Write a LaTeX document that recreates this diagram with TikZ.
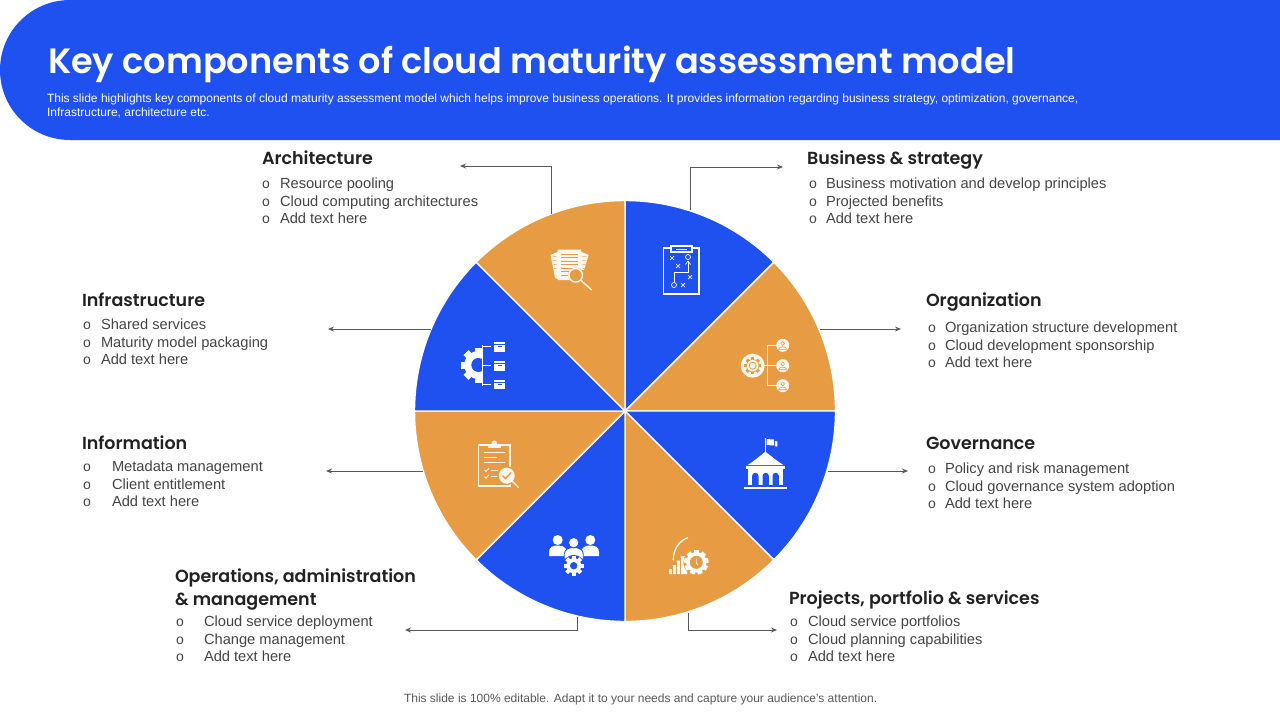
\documentclass[tikz,border=0pt]{standalone}
\usepackage{fontspec}
\usetikzlibrary{arrows.meta}
\setmainfont{Liberation Sans}
\newfontfamily\headfont{Poppins}[BoldFont={Poppins SemiBold}]
\definecolor{myblue}{HTML}{1F50F0}
\definecolor{myorange}{HTML}{E79C43}
\definecolor{headcol}{HTML}{222222}
\definecolor{bodycol}{HTML}{454545}
\definecolor{linecol}{HTML}{595959}
\tikzset{
  txt/.style={inner sep=0pt,outer sep=0pt,anchor=base west},
  headtxt/.style={txt,text=headcol,font=\headfont\bfseries\fontsize{17.5}{22}\selectfont},
  bodytxt/.style={txt,text=bodycol,font=\fontsize{14.67}{17}\selectfont},
  bultxt/.style={inner sep=0pt,outer sep=0pt,anchor=base,text=bodycol,font=\fontsize{14}{15}\selectfont},
  conn/.style={draw=linecol,line width=0.9pt,-{Stealth[length=6pt,width=5pt]}},
  wedgeb/.style={fill=myblue,draw=white,line width=1.4pt,line join=round},
  wedgeo/.style={fill=myorange,draw=white,line width=1.4pt,line join=round},
  wl/.style={draw=white,line width=1.2pt,fill=none},
}
\newcommand{\bl}[5]{%
  \node[bultxt] (#1b) at (#2,#4) {o};
  \node[bodytxt] (#1) at (#3,#4) {#5};}
% gear: x y Router Rinner teeth colour
\newcommand{\gearshape}[6]{%
  \fill[#6] (#1,#2) circle[radius=#4];
  \foreach \ga in {1,...,#5}{%
    \fill[#6,rotate around={\ga*360/#5:(#1,#2)}] ({#1-0.2*#3},#2) rectangle ({#1+0.2*#3},{#2-#3});}}
\begin{document}
\begin{tikzpicture}[x=1pt,y=-1pt]
\useasboundingbox (0,0) rectangle (1280,720);
\fill[white] (0,0) rectangle (1280,720);
% banner
\fill[myblue] (1280,0) -- (70,0) arc[start angle=90,end angle=270,radius=70pt] -- (1280,140) -- cycle;
\node[txt,text=white,font=\headfont\bfseries\fontsize{35.15}{44}\selectfont] (title) at (48,73.5) {Key components of cloud maturity assessment model};
\node[txt,text=white,font=\fontsize{12}{14}\selectfont] (sub1) at (47,102) {This slide highlights key components of cloud maturity assessment model which helps improve business operations. It provides information regarding business strategy, optimization, governance,};
\node[txt,text=white,font=\fontsize{12}{14}\selectfont] (sub2) at (47,116) {Infrastructure, architecture etc.};
% pie
\begin{scope}[shift={(625,411)}]
  \path[wedgeb] (0pt,0pt) -- (90:210.5pt) arc[start angle=90,end angle=45,radius=210.5pt] -- cycle;
  \path[wedgeo] (0pt,0pt) -- (45:210.5pt) arc[start angle=45,end angle=0,radius=210.5pt] -- cycle;
  \path[wedgeb] (0pt,0pt) -- (0:210.5pt) arc[start angle=0,end angle=-45,radius=210.5pt] -- cycle;
  \path[wedgeo] (0pt,0pt) -- (-45:210.5pt) arc[start angle=-45,end angle=-90,radius=210.5pt] -- cycle;
  \path[wedgeb] (0pt,0pt) -- (-90:210.5pt) arc[start angle=-90,end angle=-135,radius=210.5pt] -- cycle;
  \path[wedgeo] (0pt,0pt) -- (-135:210.5pt) arc[start angle=-135,end angle=-180,radius=210.5pt] -- cycle;
  \path[wedgeb] (0pt,0pt) -- (180:210.5pt) arc[start angle=180,end angle=135,radius=210.5pt] -- cycle;
  \path[wedgeo] (0pt,0pt) -- (135:210.5pt) arc[start angle=135,end angle=90,radius=210.5pt] -- cycle;
\end{scope}
% connector ends
\coordinate (pArch) at (551,214);
\coordinate (eArch) at (460,166);
\coordinate (pBus) at (690,210);
\coordinate (eBus) at (783,167);
\coordinate (pOrg) at (820,329);
\coordinate (eOrg) at (901,329);
\coordinate (pGov) at (828,471);
\coordinate (eGov) at (908,471);
\coordinate (pProj) at (688,613);
\coordinate (eProj) at (777,630);
\coordinate (pOps) at (577,617);
\coordinate (eOps) at (405,630);
\coordinate (pInfo) at (423,471);
\coordinate (eInfo) at (326,471);
\coordinate (pInfra) at (431,329);
\coordinate (eInfra) at (328,329);
\draw[conn] (pArch) |- (eArch);
\draw[conn] (pBus) |- (eBus);
\draw[conn] (pOrg) -- (eOrg);
\draw[conn] (pGov) -- (eGov);
\draw[conn] (pProj) |- (eProj);
\draw[conn] (pOps) |- (eOps);
\draw[conn] (pInfo) -- (eInfo);
\draw[conn] (pInfra) -- (eInfra);
% texts
\node[headtxt] (hArch) at (262,164.5) {Architecture};
\bl{a1}{266}{280}{188}{Resource pooling}
\bl{a2}{266}{280}{206}{Cloud computing architectures}
\bl{a3}{266}{280}{223}{Add text here}
\node[headtxt] (hBus) at (807,164.5) {Business \& strategy};
\bl{b1}{813}{826}{188}{Business motivation and develop principles}
\bl{b2}{813}{826}{206}{Projected benefits}
\bl{b3}{813}{826}{223}{Add text here}
\node[headtxt] (hInfra) at (82,306.5) {Infrastructure};
\bl{c1}{87}{101}{329}{Shared services}
\bl{c2}{87}{101}{347}{Maturity model packaging}
\bl{c3}{87}{101}{364}{Add text here}
\node[headtxt] (hOrg) at (926,306.5) {Organization};
\bl{d1}{932}{945}{332}{Organization structure development}
\bl{d2}{932}{945}{350}{Cloud development sponsorship}
\bl{d3}{932}{945}{367}{Add text here}
\node[headtxt] (hInfo) at (82,449.5) {Information};
\bl{e1}{87}{112}{471}{Metadata management}
\bl{e2}{87}{112}{489}{Client entitlement}
\bl{e3}{87}{112}{506}{Add text here}
\node[headtxt] (hGov) at (926,449.5) {Governance};
\bl{f1}{932}{945}{473}{Policy and risk management}
\bl{f2}{932}{945}{491}{Cloud governance system adoption}
\bl{f3}{932}{945}{508}{Add text here}
\node[headtxt] (hOps1) at (175,582.5) {Operations, administration};
\node[headtxt] (hOps2) at (175,605.5) {\& management};
\bl{g1}{180}{204}{626}{Cloud service deployment}
\bl{g2}{180}{204}{644}{Change management}
\bl{g3}{180}{204}{661}{Add text here}
\node[headtxt] (hProj) at (789,604.5) {Projects, portfolio \& services};
\bl{h1}{794}{808}{626}{Cloud service portfolios}
\bl{h2}{794}{808}{644}{Cloud planning capabilities}
\bl{h3}{794}{808}{661}{Add text here}
\node[txt,text=linecol,font=\fontsize{12}{14}\selectfont] (foot) at (404,702) {This slide is 100\% editable. Adapt it to your needs and capture your audience's attention.};
% --- icon: clipboard (business)
\draw[white,line width=1.6pt] (663.5,248) rectangle (699,294);
\draw[wl,fill=myblue] (671,248) -- (671,246) -- (692,246) -- (692,248) -- (692,252) -- (671,252) -- cycle;
\draw[white,line width=0.8pt] (676,249) -- (687,249);
\begin{scope}[white,line width=0.7pt]
  \foreach \mx/\my in {672/258,678/266,690/277,683/285}{
    \draw (\mx-2,\my-2) -- (\mx+2,\my+2) (\mx-2,\my+2) -- (\mx+2,\my-2);}
  \draw (688,257) circle[radius=2.5];
  \draw (674,285) circle[radius=2.5];
  \draw (674,282) -- (674,272) -- (688,272) -- (688,262);
  \draw (685.5,264.5) -- (688,261) -- (690.5,264.5);
\end{scope}
% --- icon: org gear + persons
\fill[white!92!myorange] (752.7,365.7) circle[radius=12];
\gearshape{752.7}{365.7}{8.5}{6.5}{8}{myorange}
\fill[white!92!myorange] (752.7,365.7) circle[radius=5.8];
\draw[myorange,line width=0.8pt] (752.7,365.7) circle[radius=3.5];
\draw[white!92!myorange,line width=0.9pt] (764,365.7) -- (777,365.7) (777,345.7) -- (767,345.7) -- (767,385.7) -- (777,385.7);
\foreach \py in {345.3,365.7,385.7}{
  \fill[white!92!myorange] (782.7,\py) circle[radius=6.5];
  \draw[myorange,line width=0.6pt] (782.7,\py-1.8) circle[radius=1.9];
  \draw[myorange,line width=0.6pt] (778.7,\py+4) .. controls (778.7,\py+0.5) and (786.7,\py+0.5) .. (786.7,\py+4) -- cycle;
}
% --- icon: documents + magnifier
\fill[white!92!myorange] (550.5,255) -- (558,251.7) -- (558,279) -- (555,278) -- cycle;
\fill[white!92!myorange] (581,251.7) -- (588.7,255) -- (584,270) -- (581,270) -- cycle;
\fill[white!92!myorange] (557.7,249.5) -- (581,249.5) -- (581,268) -- (570,280) -- (557.7,280) -- cycle;
\foreach \ly in {254,257.5,261,264.5,268,271.5,275}{
  \draw[myorange,line width=0.5pt] (561,\ly) -- (578,\ly);}
\foreach \ly in {258,262,266,270}{
  \draw[myorange,line width=0.4pt] (552.5,\ly-2) -- (557,\ly-1);
  \draw[myorange,line width=0.4pt] (582,\ly-1) -- (586.5,\ly-2);}
\fill[myorange] (575.7,275.3) circle[radius=7.5];
\draw[white!92!myorange,line width=1.4pt] (575.7,275.3) circle[radius=6.8];
\draw[white!92!myorange,line width=1.4pt,line cap=round] (581,280.5) -- (591.5,289.8);
% --- icon: infrastructure gear + boxes
\begin{scope}
  \clip (455,340) rectangle (482.7,392);
  \gearshape{478.3}{365}{17.5}{14}{8}{white}
  \fill[myblue] (478.3,365) circle[radius=7];
\end{scope}
\draw[white,line width=1.4pt] (482.7,345) -- (482.7,385.7);
\draw[white,line width=0.9pt] (482.7,346) -- (491,346) (482,365.3) -- (491,365.3) (482.7,384.3) -- (491,384.3);
\foreach \by in {342,361,379.7}{
  \fill[white] (494.3,\by) rectangle (505,\by+9.5);
  \draw[myblue,line width=0.5pt] (494.3,\by+2.6) -- (505,\by+2.6);
  \draw[myblue,line width=0.5pt] (498,\by+4.5) -- (501.5,\by+4.5);
}
% --- icon: bank
\draw[white,line width=0.9pt] (765.3,438.3) -- (765.3,452);
\fill[white] (766.5,439) -- (774,439.5) -- (774,445.5) -- (766.5,445) -- cycle;
\fill[white] (775,441) -- (777.3,441.5) -- (777.3,446.7) -- (775,446.2) -- cycle;
\fill[white] (765.3,451.7) .. controls (760,456) and (754,461) .. (747.7,465) -- (783.3,465) .. controls (777,461) and (771,456) .. (765.3,451.7) -- cycle;
\fill[white] (746,466) rectangle (785.3,468.5);
\fill[white] (747.7,469.3) rectangle (783.3,485.3);
\foreach \ax in {755.3,765.7,775.7}{
  \fill[myblue] (\ax-3.2,485) -- (\ax-3.2,476) arc[start angle=180,end angle=0,x radius=3.2pt,y radius=3.2pt] -- (\ax+3.2,485) -- cycle;}
\fill[white] (744,486.7) rectangle (787,489);
% --- icon: projects
\fill[white] (669,574) -- (669,569) -- (672.5,569) -- (672.5,565) -- (676.5,565) -- (676.5,560.5) -- (680.5,560.5) -- (680.5,556) -- (687,556) -- (687,574) -- cycle;
\draw[myorange,line width=0.35pt] (672.5,566) -- (672.5,574) (676.5,562) -- (676.5,574) (680.5,558) -- (680.5,574);
\draw[white,line width=1.3pt,line cap=round] (673.3,560) .. controls (673,550) and (679,541) .. (687.5,537.8);
\fill[myorange] (696.3,562.3) circle[radius=13];
\gearshape{696.3}{562.3}{12.2}{10.2}{9}{white}
\fill[myorange] (696.3,562.3) circle[radius=6.5];
\draw[white,line width=0.5pt] (696.3,558.5) -- (696.3,563) -- (698,565);
% --- icon: people + gear
\foreach \hx in {557.7,590.3}{
  \fill[white] (\hx,540) circle[radius=5];}
\fill[white] (549,556) -- (549,552) .. controls (549,547) and (553,545.5) .. (557.7,545.5) .. controls (562,545.5) and (566.7,547) .. (566.7,552) -- (566.7,556) -- cycle;
\fill[white] (581.7,556) -- (581.7,552) .. controls (581.7,547) and (585.5,545.5) .. (590.3,545.5) .. controls (595,545.5) and (599,547) .. (599,552) -- (599,556) -- cycle;
\fill[white,draw=myblue,line width=0.8pt] (564.3,559) -- (564.3,554) .. controls (564.3,549.5) and (569,547.5) .. (573.7,547.5) .. controls (578.5,547.5) and (583.3,549.5) .. (583.3,554) -- (583.3,559) -- cycle;
\fill[white,draw=myblue,line width=0.8pt] (573.7,542.7) circle[radius=5.2];
\fill[myblue] (573.7,565.7) circle[radius=10.8];
\gearshape{573.7}{565.7}{10}{7.5}{8}{white}
\fill[myblue] (573.7,565.7) circle[radius=3.7];
% --- icon: checklist
\draw[white!92!myorange,line width=1.3pt] (478.3,445) rectangle (510,486);
\fill[white!92!myorange] (494.3,443.3) circle[radius=2.8];
\fill[white!92!myorange] (488,445) rectangle (501,447.5);
\foreach \ly/\lx in {452.7/505,457.7/497,462.7/505}{
  \draw[white!92!myorange,line width=0.9pt] (484,\ly) -- (\lx,\ly);}
\foreach \ly in {470,476.7}{
  \draw[white!92!myorange,line width=0.9pt] (484.5,\ly) -- (486,\ly+1.5) -- (489,\ly-2);
  \draw[white!92!myorange,line width=0.9pt] (491,\ly) -- (498,\ly);}
\fill[myorange] (506.7,475.7) circle[radius=9.5];
\fill[white!92!myorange] (506.7,475.7) circle[radius=8];
\draw[myorange,line width=1.4pt] (502.5,475.5) -- (505.5,478.7) -- (511,472.5);
\draw[white!92!myorange,line width=1.3pt,line cap=round] (512.5,481.5) -- (518.3,487.3);
\end{tikzpicture}
\end{document}
